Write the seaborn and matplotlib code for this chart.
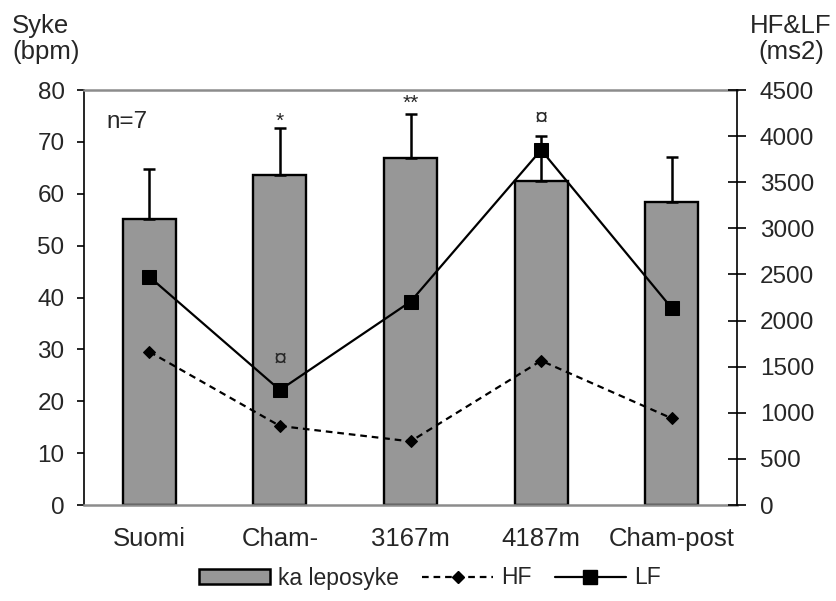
import numpy as np
import pandas as pd
import matplotlib
matplotlib.use("Agg")
import matplotlib.pyplot as plt
import seaborn as sns
from matplotlib.patches import Patch
from matplotlib.lines import Line2D

categories = ["Suomi", "Cham-", "3167m", "4187m", "Cham-post"]
bpm_mean = [55.1, 63.7, 66.9, 62.5, 58.5]
bpm_err = [9.6, 8.9, 8.5, 8.6, 8.6]
hf_values = [1662, 857, 690, 1565, 940]
lf_values = [2475, 1247, 2205, 3850, 2135]
left_ticks = [0, 10, 20, 30, 40, 50, 60, 70, 80]
right_ticks = [0, 500, 1000, 1500, 2000, 2500, 3000, 3500, 4000, 4500]

sns.set_style("white")
plt.rcParams["font.family"] = ["Liberation Sans", "DejaVu Sans"]

fig = plt.figure(figsize=(8.36, 6.01), dpi=100)
ax = fig.add_axes([0.1005, 0.1597, 0.7811, 0.6905])

pos = np.arange(len(categories))
df = pd.DataFrame({"cat": categories, "bpm": bpm_mean, "pos": pos,
                   "hf": hf_values, "lf": lf_values})

sns.barplot(data=df, x="cat", y="bpm", ax=ax, color="#979797", saturation=1,
            edgecolor="black", linewidth=1.7, width=0.405, errorbar=None)
ax.errorbar(pos, bpm_mean, yerr=[np.zeros(len(pos)), bpm_err], fmt="none",
            ecolor="black", elinewidth=1.8, capsize=4.2, capthick=1.8, zorder=3)

ax.set_xlim(-0.5, len(categories) - 0.5)
ax.set_ylim(0, 80)
ax.set_yticks(left_ticks)
ax.set_xlabel("")
ax.set_ylabel("")
ax.tick_params(axis="y", direction="out", length=5, width=1.2, pad=9,
               labelsize=17.5, left=True, color="black")
ax.tick_params(axis="x", length=0, pad=16, labelsize=18.5)
ax.spines["left"].set_color("black")
ax.spines["left"].set_linewidth(1.2)
for s in ["top", "bottom"]:
    ax.spines[s].set_color("#8c8c8c")
    ax.spines[s].set_linewidth(1.8)
ax.spines["right"].set_visible(False)

ax2 = ax.twinx()
sns.lineplot(data=df, x="pos", y="lf", ax=ax2, color="black", linewidth=1.6,
             marker="s", markersize=10, markeredgecolor="black")
sns.lineplot(data=df, x="pos", y="hf", ax=ax2, color="black", linewidth=1.6,
             linestyle=(0, (3, 2.2)), marker="D", markersize=6.5,
             markeredgecolor="black")
ax2.set_ylim(0, 4500)
ax2.set_yticks(right_ticks)
ax2.set_ylabel("")
ax2.set_xlabel("")
ax2.tick_params(axis="y", direction="inout", length=13, width=1.2, pad=10,
                labelsize=17.5, right=True, color="black")
for s in ["left", "top", "bottom"]:
    ax2.spines[s].set_visible(False)
ax2.spines["right"].set_color("black")
ax2.spines["right"].set_linewidth(1.2)
ax.set_xlim(-0.5, len(categories) - 0.5)

# annotations
ax.text(-0.33, 72.6, "n=7", fontsize=17.5, va="baseline", ha="left")
ax.text(1, 74.0, "*", fontsize=15, ha="center", va="center")
ax.text(2, 77.4, "**", fontsize=15, ha="center", va="center")
ax.text(3, 74.4, "¤", fontsize=17, ha="center", va="center")
ax.text(1, 28.1, "¤", fontsize=17, ha="center", va="center")

# axis titles
fig.text(12 / 836, 1 - 14 / 601, "Syke\n(bpm)", fontsize=18.5, ha="left",
         va="top", linespacing=1.1)
fig.text(791 / 836, 1 - 14 / 601, "HF&LF\n(ms2)", fontsize=18.5, ha="center",
         va="top", linespacing=1.1)

handles = [
    Patch(facecolor="#979797", edgecolor="black", linewidth=1.8),
    Line2D([0], [0], color="black", linewidth=1.6, linestyle=(0, (3, 2.2)),
           marker="D", markersize=6),
    Line2D([0], [0], color="black", linewidth=1.6, marker="s", markersize=10),
]
fig.legend(handles, ["ka leposyke", "HF", "LF"], loc="center",
           bbox_to_anchor=(430 / 836, 1 - 578 / 601), ncol=3, frameon=False,
           fontsize=16.5, handlelength=3.1, handleheight=0.6, columnspacing=1.0,
           handletextpad=0.35)

fig.savefig("out.png", dpi=100)
